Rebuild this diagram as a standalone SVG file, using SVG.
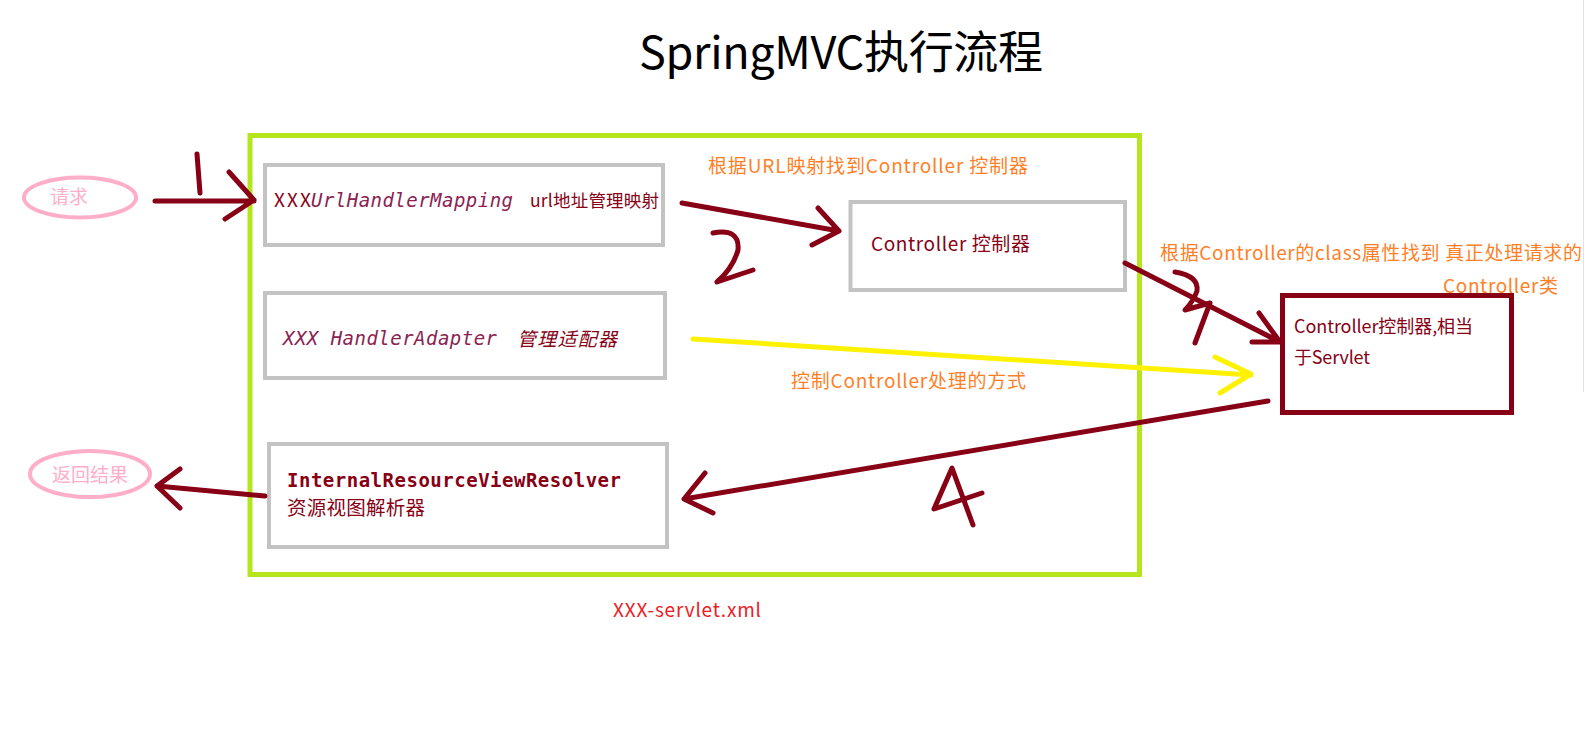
<svg xmlns="http://www.w3.org/2000/svg" width="1586" height="755" viewBox="0 0 1586 755">
<style>
.sans{font-family:"Noto Sans CJK SC","Microsoft YaHei",sans-serif}
.mono{font-family:"DejaVu Sans Mono","Liberation Mono",monospace}
.gray{fill:none;stroke:#c3c3c3;stroke-width:4}
.red{fill:#880015}
.purp{fill:#8b2252}
.orange{fill:#ff7f27;font-size:19px}
.pink{fill:none;stroke:#ffaec9;stroke-width:4}
.pinkt{fill:#ffaec9;font-size:19px}
.ar{fill:none;stroke:#880015;stroke-width:5;stroke-linecap:round;stroke-linejoin:round}
.ay{fill:none;stroke:#fff200;stroke-width:5;stroke-linecap:round;stroke-linejoin:round}
</style>
<rect width="1586" height="755" fill="#ffffff"/>
<line x1="1583.5" y1="0" x2="1583.5" y2="392" stroke="#e3e3e3" stroke-width="1"/>

<text class="sans" x="639" y="69" font-size="45" fill="#000" textLength="404">SpringMVC执行流程</text>

<g id="container">
<rect x="250" y="135.5" width="889.5" height="439" fill="none" stroke="#b5e61d" stroke-width="5"/>
<text class="sans" x="613" y="617" font-size="19" fill="#ed1c24" textLength="148">XXX-servlet.xml</text>
</g>

<g id="request">
<ellipse cx="80" cy="197.5" rx="56" ry="20" class="pink"/>
<text class="sans pinkt" x="50" y="204">请求</text>
</g>

<g id="result">
<ellipse cx="90" cy="474" rx="60" ry="23" class="pink"/>
<text class="sans pinkt" x="52" y="482">返回结果</text>
</g>

<g id="handlerMapping">
<rect x="265" y="165" width="398" height="80" class="gray"/>
<text x="274" y="207" font-size="19"><tspan class="sans red" textLength="37">XXX</tspan><tspan class="mono purp" font-style="italic" x="311" textLength="202">UrlHandlerMapping</tspan></text>
<text class="sans red" x="530" y="207" font-size="17.5" textLength="129">url地址管理映射</text>
</g>

<g id="controller">
<rect x="850.5" y="202" width="274.5" height="88" class="gray"/>
<text class="sans red" x="871" y="251" font-size="19" textLength="159">Controller 控制器</text>
</g>

<g id="handlerAdapter">
<rect x="265" y="293" width="400" height="85" class="gray"/>
<text class="mono purp" x="283" y="345" font-size="19" font-style="italic" textLength="214">XXX HandlerAdapter</text>
<text class="sans red" x="517" y="346" font-size="19" font-style="italic" textLength="100">管理适配器</text>
</g>

<g id="viewResolver">
<rect x="269" y="444" width="398" height="103" class="gray"/>
<text class="mono red" x="287" y="487" font-size="19" font-weight="bold" textLength="334">InternalResourceViewResolver</text>
<text class="sans red" x="287" y="515" font-size="19.5" textLength="138">资源视图解析器</text>
</g>

<g id="servletController">
<rect x="1282.5" y="295.5" width="229" height="117" fill="none" stroke="#880015" stroke-width="5"/>
<text class="sans red" x="1294" y="333" font-size="18" textLength="179">Controller控制器,相当</text>
<text class="sans red" x="1294" y="364" font-size="18" textLength="76">于Servlet</text>
</g>

<g id="labels">
<text class="sans orange" x="708" y="173" textLength="320">根据URL映射找到Controller 控制器</text>
<text class="sans orange" x="1160" y="260" textLength="422">根据Controller的class属性找到 真正处理请求的</text>
<text class="sans orange" x="1443" y="293" textLength="115">Controller类</text>
<text class="sans orange" x="791" y="388" textLength="235">控制Controller处理的方式</text>
</g>

<g id="connectors">
<path class="ar" d="M155,201 L254,201 M229,172 L254,200 L225,219"/>
<path class="ar" d="M197,154 L200,193"/>
<path class="ar" d="M682,203 L839,231 M818,208 L839,231 L812,245"/>
<path class="ar" d="M713,233 Q740,228 738,250 Q733,268 717,282 L753,270"/>
<path class="ar" d="M1125,263 L1280,342 M1259,313 L1280,342 L1252,342"/>
<path class="ar" d="M1175,272 Q1199,276 1197,291 Q1193,302 1185,310 L1210,303 L1195,343"/>
<path class="ay" d="M693,339 L1251,375 M1215,357 L1251,374 L1220,393"/>
<path class="ar" d="M1268,401 L684,499 M705,473 L684,499 L713,513"/>
<path class="ar" d="M973,525 L952,468 L934,509 L982,493"/>
<path class="ar" d="M265,496 L157,486 M180,469 L157,486 L180,508"/>
</g>
</svg>
